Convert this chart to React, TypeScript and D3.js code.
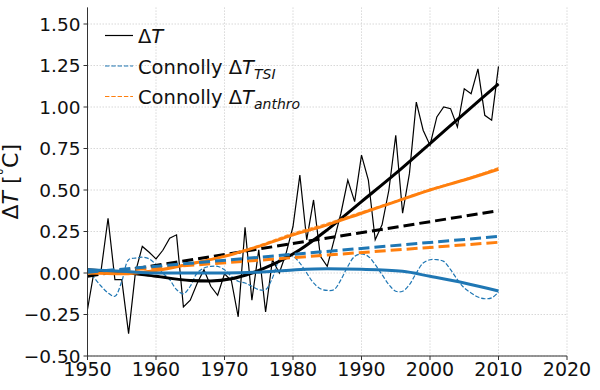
import React from "react";
import * as d3 from "d3";

// ---- data ----
const years: number[] = d3.range(1950, 2011);
const deltaT: number[] = [
  -0.22, 0.02, 0.02, 0.33, -0.04, -0.04, -0.365, 0.005, 0.16, 0.125,
  0.085, 0.137, 0.21, 0.23, -0.204, -0.164, -0.063, 0.02, -0.08, -0.134,
  -0.005, -0.045, -0.264, 0.275, -0.164, 0.14, -0.235, 0.08, 0.0, 0.12,
  0.28, 0.59, 0.2, 0.44, 0.1, 0.04, 0.2, 0.36, 0.56, 0.43,
  0.71, 0.56, 0.2, 0.29, 0.5, 0.83, 0.36, 0.6, 1.03, 0.86,
  0.77, 0.94, 1.0, 0.99, 0.88, 1.11, 1.08, 1.23, 0.95, 0.92,
  1.245,
];

const fitYears: number[] = [1950, 1955, 1960, 1965, 1968, 1971, 1974, 1977, 1981, 1985, 1990, 1995, 2000, 2005, 2010];
const fitT: number[] = [0.02, 0.005, -0.02, -0.045, -0.048, -0.035, 0.0, 0.05, 0.14, 0.26, 0.43, 0.6, 0.78, 0.96, 1.14];

const linYears: number[] = [1950, 2010];
const linT: number[] = [-0.02, 0.375];
const linTSI: number[] = [0.005, 0.22];
const linAnthro: number[] = [0.0, 0.185];

const anthroYears: number[] = [1950, 1955, 1960, 1965, 1970, 1975, 1980, 1985, 1990, 1995, 2000, 2005, 2010];
const fitAnthro: number[] = [0.0, -0.005, 0.015, 0.055, 0.1, 0.16, 0.23, 0.29, 0.36, 0.43, 0.5, 0.56, 0.625];
const connollyAnthro: number[] = [0.0, -0.002, 0.02, 0.06, 0.105, 0.167, 0.24, 0.3, 0.368, 0.435, 0.505, 0.565, 0.635];

const tsiFitYears: number[] = [1950, 1955, 1960, 1965, 1970, 1975, 1980, 1985, 1990, 1996, 2000, 2005, 2010];
const fitTSI: number[] = [0.02, 0.01, 0.0, 0.0, 0.0, 0.005, 0.018, 0.025, 0.022, 0.01, -0.02, -0.06, -0.108];

const connollyTSI: number[] = [
  0.02, -0.03, -0.08, -0.12, -0.14, -0.05, 0.08, 0.09, 0.095, 0.085,
  0.05, 0.0, -0.04, -0.1, -0.125, -0.08, 0.0, 0.03, 0.04, 0.04,
  0.02, -0.02, -0.05, -0.06, -0.08, -0.1, -0.1, -0.03, 0.08, 0.11,
  0.1, 0.06, 0.0, -0.06, -0.095, -0.105, -0.1, -0.04, 0.04, 0.1,
  0.115, 0.1, 0.05, -0.01, -0.07, -0.11, -0.11, -0.07, 0.0, 0.06,
  0.08, 0.08, 0.07, 0.02, -0.04, -0.09, -0.12, -0.145, -0.155, -0.15,
  -0.115,
];

const xTicks: number[] = [1950, 1960, 1970, 1980, 1990, 2000, 2010, 2020];
const yTicks: number[] = [-0.5, -0.25, 0, 0.25, 0.5, 0.75, 1.0, 1.25, 1.5];

const BLUE = "#1f77b4";
const ORANGE = "#ff7f0e";
const FONT = "DejaVu Sans, sans-serif";

export default function App() {
  const W = 600, H = 390;
  const x = d3.scaleLinear().domain([1950, 2020]).range([87.5, 567]);
  const y = d3.scaleLinear().domain([-0.5, 1.6]).range([356, 7.4]);

  const mk = (xs: number[], vs: number[], curve: any) =>
    d3.line<number>().x((_, i) => x(xs[i])).y((v) => y(v)).curve(curve)(vs) || "";

  const lin = d3.curveLinear;
  const smooth = d3.curveMonotoneX;

  return (
    <div style={{ position: "absolute", left: 0, top: 0 }}>
      <svg width={W} height={H} style={{ display: "block", fontFamily: FONT }}>
        <rect width={W} height={H} fill="#fff" />
        {/* grid */}
        {xTicks.map((t) => (
          <line key={"gx" + t} x1={x(t)} x2={x(t)} y1={y(1.6)} y2={y(-0.5)} stroke="#d4d4d4" strokeWidth={0.9} strokeDasharray="1.5,1.5" />
        ))}
        {yTicks.map((t) => (
          <line key={"gy" + t} x1={x(1950)} x2={x(2020)} y1={y(t)} y2={y(t)} stroke="#d4d4d4" strokeWidth={0.9} strokeDasharray="1.5,1.5" />
        ))}

        {/* thin series */}
        <path d={mk(years, deltaT, lin)} fill="none" stroke="#000" strokeWidth={1.2} />
        <path d={mk(years, connollyTSI, d3.curveCatmullRom)} fill="none" stroke={BLUE} strokeWidth={1.2} strokeDasharray="4.4,1.9" />

        {/* thick fits */}
        <path d={mk(fitYears, fitT, smooth)} fill="none" stroke="#000" strokeWidth={3} />
        <path d={mk(linYears, linT, lin)} fill="none" stroke="#000" strokeWidth={3} strokeDasharray="11,5" />
        <path d={mk(anthroYears, fitAnthro, smooth)} fill="none" stroke={ORANGE} strokeWidth={3} />
        <path d={mk(anthroYears, connollyAnthro, smooth)} fill="none" stroke={ORANGE} strokeWidth={1.2} strokeDasharray="4.4,1.9" opacity={0.8} />
        <path d={mk(linYears, linAnthro, lin)} fill="none" stroke={ORANGE} strokeWidth={3} strokeDasharray="11,5" />
        <path d={mk(tsiFitYears, fitTSI, smooth)} fill="none" stroke={BLUE} strokeWidth={3} />
        <path d={mk(linYears, linTSI, lin)} fill="none" stroke={BLUE} strokeWidth={3} strokeDasharray="11,5" />

        {/* spines */}
        <line x1={x(1950)} x2={x(1950)} y1={y(1.6)} y2={y(-0.5)} stroke="#333" strokeWidth={1} />
        <line x1={x(1950)} x2={x(2020)} y1={y(-0.5)} y2={y(-0.5)} stroke="#333" strokeWidth={1} />

        {/* y ticks */}
        {yTicks.map((t) => (
          <g key={"yt" + t}>
            <line x1={x(1950) - 4} x2={x(1950)} y1={y(t)} y2={y(t)} stroke="#333" strokeWidth={1} />
            <text x={x(1950) - 7} y={y(t)} dy="0.36em" textAnchor="end" fontSize={18.5} fill="#111">
              {t < 0 ? "\u2212" + d3.format(".2f")(-t) : d3.format(".2f")(t)}
            </text>
          </g>
        ))}
        {/* x ticks */}
        {xTicks.map((t) => (
          <g key={"xt" + t}>
            <line x1={x(t)} x2={x(t)} y1={y(-0.5)} y2={y(-0.5) + 4} stroke="#333" strokeWidth={1} />
            <text x={x(t)} y={y(-0.5) + 20} textAnchor="middle" fontSize={19} fill="#111">{t}</text>
          </g>
        ))}

        {/* y label */}
        <text transform={`translate(17.5,${(y(1.6) + y(-0.5)) / 2}) rotate(-90)`} textAnchor="middle" fontSize={22} fill="#111">
          <tspan>Δ</tspan><tspan fontStyle="italic">T</tspan><tspan> [</tspan><tspan fontSize={15} dy={-8}>°</tspan><tspan dy={8}>C]</tspan>
        </text>

        {/* legend */}
        <g fontSize={19.5} fill="#111">
          <line x1={105} x2={133} y1={35.5} y2={35.5} stroke="#000" strokeWidth={1.2} />
          <text x={138} y={42.5}>Δ<tspan fontStyle="italic">T</tspan></text>

          <line x1={105} x2={133} y1={66} y2={66} stroke={BLUE} strokeWidth={1.2} strokeDasharray="4.4,1.9" />
          <text x={138} y={73.5}>Connolly Δ<tspan fontStyle="italic">T</tspan><tspan fontStyle="italic" fontSize={14} dy={5}>TSI</tspan></text>

          <line x1={105} x2={133} y1={96.5} y2={96.5} stroke={ORANGE} strokeWidth={1.2} strokeDasharray="4.4,1.9" />
          <text x={138} y={104}>Connolly Δ<tspan fontStyle="italic">T</tspan><tspan fontStyle="italic" fontSize={14} dy={5}>anthro</tspan></text>
        </g>
      </svg>
    </div>
  );
}
